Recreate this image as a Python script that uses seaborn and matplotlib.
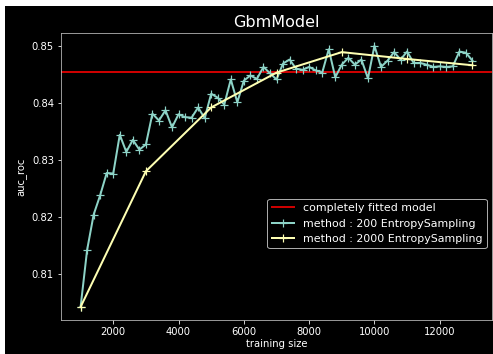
import matplotlib
matplotlib.use("Agg")
import matplotlib.pyplot as plt
import seaborn as sns
import pandas as pd
from matplotlib.patches import Rectangle

# ---- data ----
sizes_200 = list(range(1000, 13001, 200))
auc_200 = [0.8043, 0.8143, 0.8205, 0.8239, 0.8278, 0.8277, 0.8345, 0.8315, 0.8336, 0.8319,
           0.8328, 0.8382, 0.8370, 0.8388, 0.8358, 0.8381, 0.8376, 0.8375, 0.8393, 0.8374,
           0.8417, 0.8410, 0.8398, 0.8442, 0.8402, 0.8440, 0.8449, 0.8443, 0.8464, 0.8453,
           0.8442, 0.8470, 0.8477, 0.8461, 0.8459, 0.8464, 0.8458, 0.8454, 0.8495, 0.8446,
           0.8468, 0.8480, 0.8468, 0.8477, 0.8444, 0.8501, 0.8464, 0.8475, 0.8490, 0.8477,
           0.8491, 0.8471, 0.8471, 0.8468, 0.8464, 0.8465, 0.8464, 0.8465, 0.8491, 0.8489,
           0.8475]
sizes_2000 = [1000, 3000, 5000, 7000, 9000, 11000, 13000]
auc_2000 = [0.8043, 0.8281, 0.8393, 0.8454, 0.8490, 0.8478, 0.8467]
full_model_auc = 0.8455

labels = ["completely fitted model",
          "method : 200 EntropySampling",
          "method : 2000 EntropySampling"]
title = "GbmModel"
xlabel = "training size"
ylabel = "auc_roc"

plt.style.use("dark_background")
plt.rcParams["font.family"] = ["DejaVu Sans"]

fig = plt.figure(figsize=(493 / 72, 354 / 72), dpi=72)
fig.patch.set_facecolor("black")
ax = fig.add_axes([61 / 493, 34 / 354, (492 - 61) / 493, (320.5 - 33.3) / 354])
ax.set_facecolor("black")

ax.axhline(full_model_auc, color="#cc0000", lw=2, label=labels[0])

cyan = "#8dd3c7"
yellow = "#feffb3"
df200 = pd.DataFrame({"size": sizes_200, "auc": auc_200})
df2000 = pd.DataFrame({"size": sizes_2000, "auc": auc_2000})
sns.lineplot(data=df200, x="size", y="auc", ax=ax, color=cyan, lw=2,
             marker="+", markersize=8, mew=1.2, markeredgecolor=cyan, label=labels[1])
sns.lineplot(data=df2000, x="size", y="auc", ax=ax, color=yellow, lw=2,
             marker="+", markersize=8, mew=1.2, markeredgecolor=yellow, label=labels[2])

ax.set_xticks([2000, 4000, 6000, 8000, 10000, 12000])
ax.set_yticks([0.81, 0.82, 0.83, 0.84, 0.85])
ax.tick_params(labelsize=10, colors="white")
for s in ax.spines.values():
    s.set_color("#bbbbbb")
ax.set_title(title, fontsize=16, color="white", pad=6)
ax.set_xlabel(xlabel, fontsize=10, labelpad=2)
ax.set_ylabel(ylabel, fontsize=10)
ax.grid(False)

leg = ax.legend(loc="lower right", bbox_to_anchor=(1.0, 0.23), fontsize=11,
                frameon=True, facecolor="black", edgecolor="#aaaaaa", framealpha=1)

# white screenshot borders (top / left)
fig.patches.append(Rectangle((0, 1 - 6 / 354), 1, 6 / 354, transform=fig.transFigure,
                             facecolor="white", edgecolor="none", zorder=10))
fig.patches.append(Rectangle((0, 0), 5 / 493, 1, transform=fig.transFigure,
                             facecolor="white", edgecolor="none", zorder=10))

fig.savefig("out.png", dpi=72, facecolor="black")
